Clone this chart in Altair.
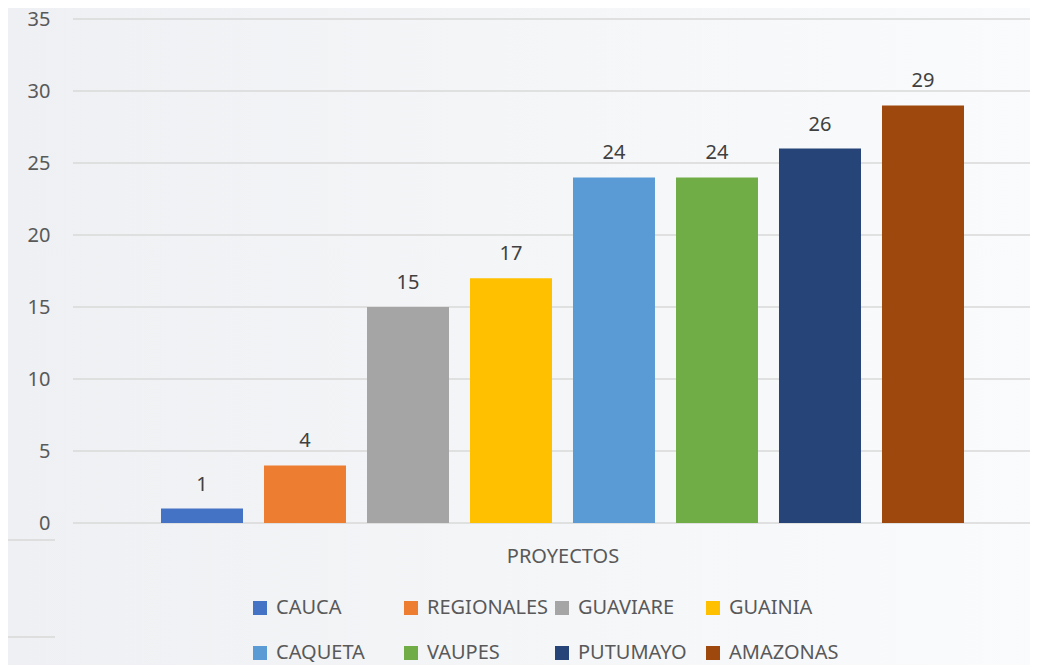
import altair as alt
import pandas as pd

departamentos = ["CAUCA", "REGIONALES", "GUAVIARE", "GUAINIA",
                 "CAQUETA", "VAUPES", "PUTUMAYO", "AMAZONAS"]
proyectos = [1, 4, 15, 17, 24, 24, 26, 29]
colores = ["#4472C4", "#ED7D31", "#A5A5A5", "#FFC000",
           "#5B9BD5", "#70AD47", "#264478", "#9E480E"]
y_ticks = [0, 5, 10, 15, 20, 25, 30, 35]
categoria = "PROYECTOS"

df = pd.DataFrame({"dep": departamentos, "n": proyectos})
grid_df = pd.DataFrame({"v": y_ticks})
one = pd.DataFrame({"a": [0]})

W, H = 957, 504
FONT = "Noto Sans"
LBL = "#595959"

yscale = alt.Scale(domain=[0, 35], nice=False)
xscale = alt.Scale(domain=departamentos, paddingInner=0.2039,
                   paddingOuter=0.7476, align=0.5714)

yaxis = alt.Axis(values=y_ticks, grid=False, domain=False, ticks=False,
                 labelFontSize=20, labelColor=LBL, labelFont=FONT,
                 labelPadding=23, title=None, zindex=2)
xaxis = alt.Axis(labels=False, ticks=False, domain=False, title=categoria,
                 titleX=489.5, titleY=39, titleBaseline="alphabetic",
                 titleFontSize=20, titleColor=LBL, titleFont=FONT,
                 titleFontWeight="normal", zindex=2)

gradient = {
    "gradient": "linear", "x1": 0, "y1": 0, "x2": 1, "y2": 0,
    "stops": [{"offset": 0, "color": "#eef0f3"},
              {"offset": 1, "color": "#fafbfc"}],
}

bg = alt.Chart(one).mark_rect(color=gradient).encode(
    x=alt.value(-65), x2=alt.value(W + 10),
    y=alt.value(-11), y2=alt.value(H + 142))

grid = alt.Chart(grid_df).mark_rule(color="#d9d9d9", strokeWidth=1.5).encode(
    y=alt.Y("v:Q", scale=yscale, axis=yaxis),
    x=alt.value(0), x2=alt.value(W + 10))

stray1 = alt.Chart(one).mark_rule(color="#d9d9d9", strokeWidth=1.5).encode(
    x=alt.value(-65), x2=alt.value(-18), y=alt.value(521))
stray2 = alt.Chart(one).mark_rule(color="#d9d9d9", strokeWidth=1.5).encode(
    x=alt.value(-65), x2=alt.value(-18), y=alt.value(618))

bars = alt.Chart(df).mark_bar().encode(
    x=alt.X("dep:N", scale=xscale, sort=departamentos, axis=xaxis),
    y=alt.Y("n:Q", scale=yscale, axis=yaxis),
    color=alt.Color("dep:N", sort=departamentos,
                    scale=alt.Scale(domain=departamentos, range=colores),
                    legend=alt.Legend(
                        orient="none", legendX=177, legendY=579,
                        direction="horizontal",
                        columns=4, title=None, symbolType="square",
                        symbolSize=196, symbolStrokeWidth=0,
                        labelFontSize=20, labelColor=LBL, labelFont=FONT,
                        labelOffset=6, columnPadding=3, rowPadding=25,
                        gridAlign="all", padding=0, labelLimit=400)),
)

text = alt.Chart(df).mark_text(fontSize=20, color="#404040", font=FONT,
                               baseline="alphabetic", dy=-18).encode(
    x=alt.X("dep:N", scale=xscale, sort=departamentos, axis=xaxis),
    y=alt.Y("n:Q", scale=yscale, axis=yaxis),
    text="n:Q",
)

chart = alt.layer(bg, grid, stray1, stray2, bars, text).properties(
    width=W, height=H,
    padding={"left": 65, "top": 11, "right": 0, "bottom": 142},
    autosize=alt.AutoSizeParams(type="none"),
    background="#f1f2f5",
).configure_view(stroke=None)

chart.save("out.html", embed_options={"renderer": "svg", "actions": False})
